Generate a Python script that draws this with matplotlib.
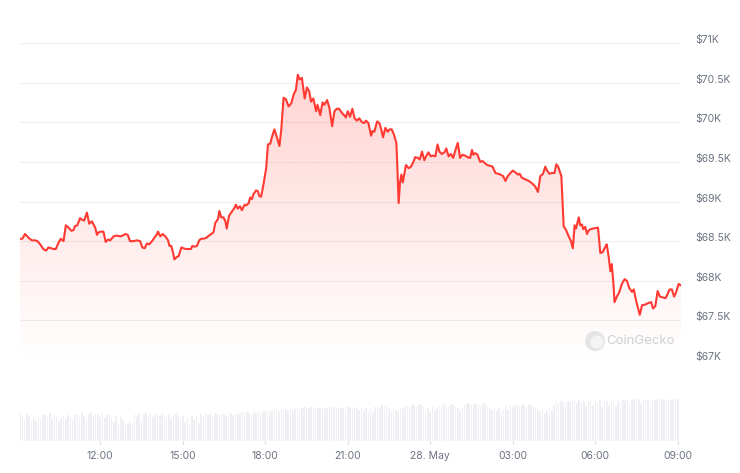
import numpy as np
import pandas as pd
import matplotlib
matplotlib.use("Agg")
from matplotlib import pyplot as plt
import matplotlib.dates as mdates
from matplotlib.colors import to_rgb
from matplotlib.patches import Circle
from matplotlib.transforms import IdentityTransform

plt.rcParams['font.family'] = ['Inter', 'DejaVu Sans']

# BTC price, 27 May 09:05 -> 28 May 09:07
price_times = [
    "09:05", "09:10", "09:16", "09:24", "09:31", "09:38", "09:43", "09:49", "09:56", "10:02",
    "10:07", "10:13", "10:18", "10:23", "10:29", "10:34", "10:40", "10:45", "10:51", "10:57",
    "11:02", "11:05", "11:10", "11:16", "11:20", "11:25", "11:31", "11:36", "11:42", "11:49",
    "11:53", "11:56", "12:02", "12:07", "12:12", "12:17", "12:22", "12:29", "12:36", "12:44",
    "12:49", "12:55", "13:00", "13:05", "13:13", "13:20", "13:27", "13:32", "13:37", "13:42",
    "13:47", "13:53", "13:58", "14:04", "14:06", "14:11", "14:16", "14:22", "14:28", "14:31",
    "14:35", "14:39", "14:42", "14:47", "14:51", "14:57", "15:02", "15:07", "15:13", "15:18",
    "15:21", "15:26", "15:31", "15:36", "15:40", "15:45", "15:51", "15:55", "16:02", "16:07",
    "16:11", "16:17", "16:20", "16:24", "16:29", "16:33", "16:36", "16:41", "16:47", "16:53",
    "16:56", "17:00", "17:05", "17:09", "17:15", "17:18", "17:24", "17:27", "17:31", "17:34",
    "17:40", "17:44", "17:47", "17:51", "17:56", "18:02", "18:06", "18:11", "18:15", "18:20",
    "18:26", "18:31", "18:35", "18:40", "18:45", "18:51", "18:57", "19:02", "19:07", "19:11",
    "19:15", "19:20", "19:26", "19:31", "19:36", "19:40", "19:45", "19:51", "19:54", "20:00",
    "20:05", "20:09", "20:15", "20:20", "20:26", "20:31", "20:36", "20:41", "20:47", "20:52",
    "20:56", "21:00", "21:05", "21:10", "21:15", "21:20", "21:25", "21:31", "21:36", "21:40",
    "21:45", "21:51", "21:54", "21:58", "22:04", "22:09", "22:13", "22:17", "22:22", "22:27",
    "22:31", "22:36", "22:41", "22:46", "22:48", "22:51", "22:54", "22:57", "23:00", "23:07",
    "23:13", "23:18", "23:24", "23:27", "23:33", "23:37", "23:42", "23:47", "23:51", "23:56",
    "00:01", "00:06", "00:11", "00:16", "00:20", "00:25", "00:31", "00:35", "00:40", "00:45",
    "00:50", "00:54", "01:00", "01:05", "01:10", "01:16", "01:21", "01:27", "01:31", "01:34",
    "01:38", "01:43", "01:49", "01:54", "01:58", "02:04", "02:11", "02:16", "02:22", "02:28",
    "02:33", "02:39", "02:44", "02:49", "02:55", "03:00", "03:05", "03:11", "03:15", "03:20",
    "03:27", "03:35", "03:42", "03:49", "03:55", "04:00", "04:06", "04:11", "04:15", "04:20",
    "04:26", "04:31", "04:35", "04:39", "04:42", "04:46", "04:51", "04:57", "05:02", "05:07",
    "05:11", "05:15", "05:18", "05:24", "05:27", "05:31", "05:34", "05:38", "05:42", "05:45",
    "05:49", "05:56", "06:06", "06:11", "06:16", "06:22", "06:25", "06:29", "06:33", "06:36",
    "06:40", "06:42", "06:47", "06:52", "06:58", "07:04", "07:09", "07:14", "07:20", "07:24",
    "07:29", "07:34", "07:37", "07:42", "07:49", "07:56", "08:02", "08:06", "08:11", "08:16",
    "08:21", "08:27", "08:33", "08:36", "08:42", "08:47", "08:52", "08:56", "09:02", "09:07",
]
prices = [
    68530, 68530, 68590, 68540, 68510, 68510, 68500, 68460, 68400, 68380,
    68420, 68410, 68400, 68400, 68480, 68530, 68500, 68700, 68670, 68630,
    68640, 68690, 68700, 68790, 68770, 68760, 68860, 68720, 68750, 68670,
    68580, 68610, 68620, 68620, 68490, 68520, 68510, 68560, 68570, 68560,
    68570, 68590, 68580, 68500, 68500, 68510, 68500, 68420, 68410, 68470,
    68460, 68500, 68540, 68590, 68620, 68560, 68590, 68560, 68510, 68440,
    68440, 68350, 68270, 68300, 68310, 68420, 68410, 68400, 68400, 68400,
    68440, 68430, 68440, 68510, 68530, 68530, 68540, 68560, 68590, 68610,
    68730, 68780, 68880, 68800, 68800, 68750, 68660, 68820, 68870, 68920,
    68960, 68910, 68940, 68890, 68960, 68950, 68980, 69050, 69030, 69090,
    69140, 69130, 69070, 69060, 69210, 69420, 69720, 69730, 69820, 69910,
    69800, 69700, 69910, 70310, 70290, 70200, 70240, 70350, 70410, 70600,
    70540, 70560, 70300, 70440, 70390, 70260, 70300, 70140, 70220, 70090,
    70250, 70220, 70280, 70180, 69950, 70140, 70170, 70170, 70120, 70090,
    70060, 70140, 70070, 70170, 70050, 70020, 70050, 70000, 69990, 70020,
    69990, 69830, 69890, 69880, 70010, 69990, 69910, 69810, 69930, 69880,
    69910, 69910, 69840, 69740, 69470, 68980, 69240, 69340, 69240, 69460,
    69420, 69440, 69510, 69560, 69550, 69530, 69630, 69520, 69570, 69620,
    69570, 69580, 69570, 69720, 69630, 69600, 69620, 69670, 69570, 69600,
    69550, 69630, 69740, 69550, 69590, 69580, 69560, 69550, 69650, 69590,
    69610, 69590, 69500, 69510, 69490, 69460, 69450, 69440, 69360, 69350,
    69340, 69320, 69260, 69320, 69360, 69390, 69370, 69340, 69350, 69300,
    69280, 69260, 69230, 69190, 69120, 69320, 69350, 69440, 69390, 69350,
    69360, 69360, 69470, 69440, 69390, 69320, 68690, 68630, 68560, 68500,
    68410, 68700, 68660, 68800, 68700, 68710, 68650, 68680, 68590, 68630,
    68650, 68660, 68670, 68350, 68360, 68430, 68460, 68310, 68120, 68210,
    67930, 67730, 67800, 67850, 67960, 68020, 68000, 67910, 67860, 67890,
    67750, 67640, 67570, 67690, 67700, 67720, 67730, 67650, 67680, 67870,
    67800, 67790, 67780, 67810, 67890, 67890, 67800, 67850, 67960, 67940,
]

# 5-minute volume bars from 09:05 (relative heights)
volume = [
    28, 24, 21, 27, 25, 19, 23, 20, 24, 22, 26, 27, 25, 28, 22, 27, 24, 20, 23, 25, 22, 26, 24, 21,
    26, 27, 24, 28, 25, 22, 27, 29, 26, 28, 27, 24, 29, 23, 26, 27, 22, 19, 25, 16, 24, 21, 15, 17,
    20, 18, 27, 25, 28, 22, 27, 29, 26, 28, 24, 27, 29, 25, 28, 26, 23, 27, 22, 26, 28, 24, 21, 25,
    19, 23, 17, 25, 21, 26, 18, 27, 24, 28, 26, 27, 25, 28, 27, 26, 28, 27, 25, 28, 27, 26, 28, 27,
    28, 29, 27, 29, 28, 26, 29, 28, 30, 27, 29, 30, 31, 29, 30, 32, 31, 30, 32, 31, 32, 30, 32, 31,
    32, 33, 31, 33, 34, 32, 33, 34, 33, 32, 34, 33, 34, 32, 33, 34, 33, 34, 33, 32, 34, 33, 31, 34,
    34, 32, 35, 33, 31, 34, 30, 33, 29, 32, 28, 34, 35, 33, 36, 34, 35, 33, 30, 34, 31, 29, 33, 32,
    35, 36, 34, 37, 36, 35, 37, 36, 34, 30, 33, 29, 35, 31, 34, 36, 35, 37, 36, 34, 37, 36, 35, 33,
    30, 34, 36, 37, 38, 36, 37, 38, 37, 36, 38, 37, 35, 33, 31, 34, 30, 33, 29, 32, 35, 31, 36, 34,
    36, 37, 35, 37, 36, 34, 37, 36, 35, 33, 31, 29, 32, 28, 30, 33, 31, 36, 39, 38, 40, 39, 38, 40,
    39, 41, 40, 38, 41, 39, 40, 35, 39, 41, 36, 40, 38, 41, 34, 39, 40, 36, 41, 39, 35, 40, 38, 41,
    41, 42, 36, 41, 42, 40, 42, 37, 41, 42, 41, 35, 42, 41, 42, 40, 42, 41, 42, 42, 41, 42, 40, 42,
]

tick_times = ["2024-05-27 12:00", "2024-05-27 15:00", "2024-05-27 18:00", "2024-05-27 21:00",
              "2024-05-28 00:00", "2024-05-28 03:00", "2024-05-28 06:00", "2024-05-28 09:00"]
tick_labels = ["12:00", "15:00", "18:00", "21:00", "28. May", "03:00", "06:00", "09:00"]
price_ticks = [67000, 67500, 68000, 68500, 69000, 69500, 70000, 70500, 71000]
price_tick_labels = ["$67K", "$67.5K", "$68K", "$68.5K", "$69K", "$69.5K", "$70K", "$70.5K", "$71K"]

# build timestamps, rolling over midnight
start_day = pd.Timestamp("2024-05-27")
stamps = []
day = 0
prev = -1
for s in price_times:
    h, m = map(int, s.split(":"))
    if h * 60 + m < prev:
        day += 1
    prev = h * 60 + m
    stamps.append(start_day + pd.Timedelta(days=day, hours=h, minutes=m))
x = mdates.date2num(pd.DatetimeIndex(stamps))
vol_x = mdates.date2num(pd.date_range("2024-05-27 09:05", periods=len(volume), freq="5min"))

W, H = 740, 473
fig = plt.figure(figsize=(W / 100, H / 100), dpi=100)
red = "#ff3a33"
grey_txt = "#6b7280"

ax = fig.add_axes([20 / W, 1 - 360 / H, 661 / W, 317 / H])
axv = fig.add_axes([20 / W, 1 - 441 / H, 661 / W, 44 / H], sharex=ax)

# price line + gradient fill
ax.plot(x, prices, color=red, lw=1.5, solid_joinstyle="round", zorder=3)
poly = ax.fill_between(x, prices, 67000, color="none", lw=0)
grad = np.zeros((256, 1, 4))
grad[..., :3] = to_rgb(red)
grad[:, 0, 3] = np.linspace(0.0, 0.22, 256)
im = ax.imshow(grad, extent=[x[0], x[-1], 67000, max(prices)], origin="lower",
               aspect="auto", zorder=2, interpolation="bilinear")
im.set_clip_path(poly.get_paths()[0], transform=ax.transData)

ax.set_xlim(x[0], x[-1])
ax.set_ylim(67000, 71000)
ax.set_yticks(price_ticks)
ax.set_yticklabels(price_tick_labels)
ax.yaxis.tick_right()
ax.tick_params(axis="y", length=0, pad=10, labelsize=7.5, labelcolor=grey_txt)
for lbl in ax.get_yticklabels():
    lbl.set_va("baseline")
ax.grid(axis="y", color="#efefef", lw=0.8)
ax.set_axisbelow(True)
ax.tick_params(axis="x", which="both", bottom=False, labelbottom=False)
for sp in ax.spines.values():
    sp.set_visible(False)

# volume bars
axv.bar(vol_x, volume, width=3.4 / 1440, color="#eef0f3", lw=0)
axv.set_ylim(0, 44)
axv.set_yticks([])
axv.set_xticks(mdates.date2num(pd.DatetimeIndex(tick_times)))
axv.set_xticklabels(tick_labels)
axv.tick_params(axis="x", length=2.4, color="#d6d9de", pad=5, labelsize=7.5, labelcolor=grey_txt)
for sp in axv.spines.values():
    sp.set_visible(False)

# watermark
fig.patches.append(Circle((595, H - 341), 10, transform=IdentityTransform(),
                          facecolor="#e4e4e4", edgecolor="none", figure=fig))
fig.patches.append(Circle((597, H - 342), 6.5, transform=IdentityTransform(),
                          facecolor="#f4f4f4", edgecolor="none", figure=fig))
fig.text(606 / W, 1 - 341 / H, "CoinGecko", fontsize=9.5, color="#cdd0d4", va="center", ha="left")

fig.savefig("out.png", dpi=100)
